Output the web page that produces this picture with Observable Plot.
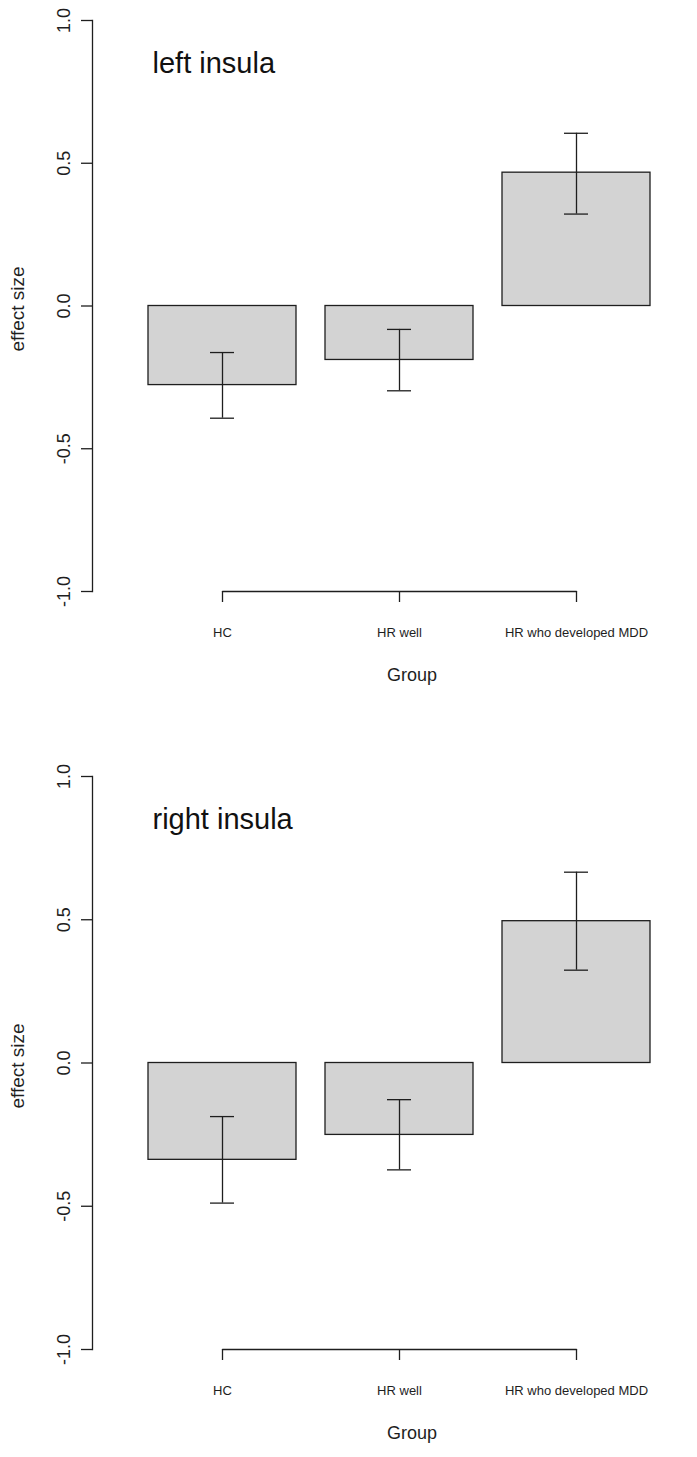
<!DOCTYPE html>
<html>
<head>
<meta charset="utf-8">
<script src="https://cdn.jsdelivr.net/npm/d3@7"></script>
<script src="https://cdn.jsdelivr.net/npm/@observablehq/plot@0.6"></script>
<style>
  html, body { margin: 0; padding: 0; background: #fff; overflow: hidden; }
  #charts > * { display: block; }
</style>
</head>
<body>
<div id="charts"></div>
<script>
// ---- data ----
const groups = ["HC", "HR well", "HR who developed MDD"];
const panelTitles = ["left insula", "right insula"];
const leftMean  = [-0.277, -0.189, 0.467];
const leftLow   = [-0.393, -0.297, 0.322];
const leftHigh  = [-0.163, -0.082, 0.605];
const rightMean = [-0.338, -0.251, 0.495];
const rightLow  = [-0.489, -0.373, 0.324];
const rightHigh = [-0.187, -0.128, 0.666];
const yDomain = [-1, 1];
const yTicks = [-1, -0.5, 0, 0.5, 1];
const xLabel = "Group";
const yLabel = "effect size";

const ink = "#1e1e1e";

function panel(title, mean, low, high, height, marginBottom) {
  const rows = groups.map((g, i) => ({group: g, mean: mean[i], low: low[i], high: high[i]}));
  return Plot.plot({
    width: 697,
    height,
    marginTop: 20,
    marginLeft: 92,
    marginRight: 46,
    marginBottom,
    x: {type: "band", domain: groups, range: [146.7, 651], paddingInner: 1 / 6, paddingOuter: 0, axis: null},
    y: {domain: yDomain, axis: null},
    style: {fontFamily: "'Liberation Sans', Arial, sans-serif", background: "white", color: ink},
    marks: [
      Plot.barY(rows, {x: "group", y1: 0, y2: "mean", fill: "#d3d3d3", stroke: ink, strokeWidth: 1.3}),
      Plot.ruleX(rows, {x: "group", y1: "low", y2: "high", stroke: ink, strokeWidth: 1.3}),
      Plot.tickY(rows, {x: "group", y: "low", insetLeft: 62, insetRight: 62, stroke: ink, strokeWidth: 1.3}),
      Plot.tickY(rows, {x: "group", y: "high", insetLeft: 62, insetRight: 62, stroke: ink, strokeWidth: 1.3}),
      // y axis
      Plot.frame({anchor: "left", stroke: ink, strokeWidth: 1.3}),
      Plot.axisY({ticks: yTicks, tickSize: 11, tickFormat: () => "", label: null, stroke: ink, strokeWidth: 1.3}),
      Plot.text(yTicks, {y: d => d, text: d => d.toFixed(1), frameAnchor: "left", textAnchor: "middle", lineAnchor: "middle", dx: -28, rotate: -90, fontSize: 18, fill: ink}),
      Plot.text([yLabel], {text: d => d, frameAnchor: "left", textAnchor: "middle", lineAnchor: "middle", dx: -75, dy: 3, rotate: -90, fontSize: 19, fill: ink}),
      // x axis
      Plot.line(groups, {x: d => d, y: yDomain[0], stroke: ink, strokeWidth: 1.3}),
      Plot.axisX({tickSize: 11, tickPadding: 25, fontSize: 13, label: null, stroke: ink, strokeWidth: 1.3, fill: ink}),
      Plot.text([xLabel], {text: d => d, frameAnchor: "bottom", textAnchor: "middle", lineAnchor: "middle", dx: 40, dy: 84, fontSize: 18, fill: ink}),
      // title
      Plot.text([title], {text: d => d, frameAnchor: "top-left", dx: 60, dy: 52, textAnchor: "start", lineAnchor: "bottom", fontSize: 29, fill: "#111"})
    ]
  });
}

const root = document.getElementById("charts");
root.append(panel(panelTitles[0], leftMean, leftLow, leftHigh, 756, 165));
root.append(panel(panelTitles[1], rightMean, rightLow, rightHigh, 701, 108));
</script>
</body>
</html>
